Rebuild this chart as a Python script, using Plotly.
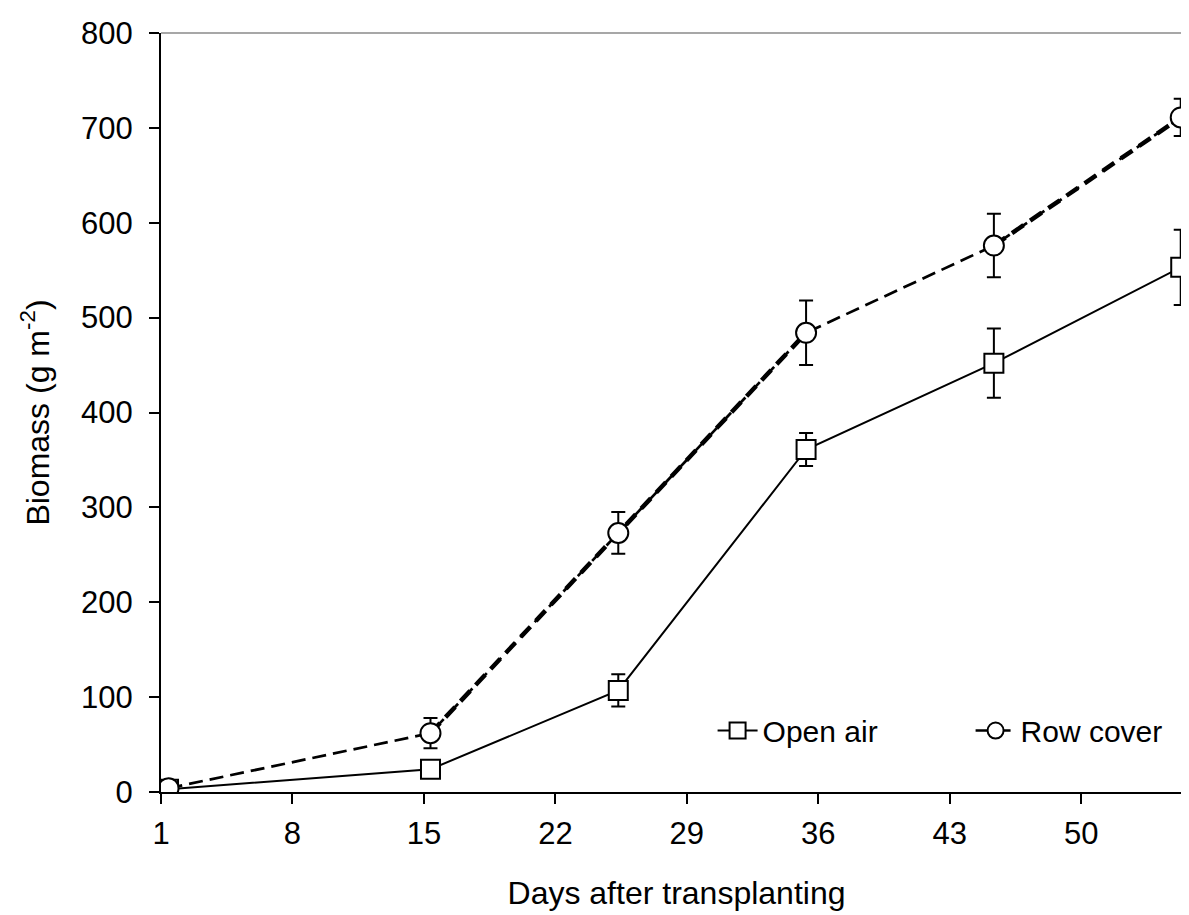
import plotly.graph_objects as go

days = [1.4, 15.35, 25.35, 35.35, 45.35, 55.3]
open_air = [3, 24, 107, 361, 452, 553]
open_air_err = [2, 5, 17, 17.5, 36.5, 39.6]
row_cover = [4, 62, 273, 484, 576, 711]
row_cover_err = [2, 16, 22, 34, 33.5, 19.6]
x_ticks = [1, 8, 15, 22, 29, 36, 43, 50]
y_ticks = [0, 100, 200, 300, 400, 500, 600, 700, 800]

FONT = "Liberation Sans, Arial, sans-serif"

fig = go.Figure()

# thicker dashed segments of the row cover line
for a, b in [(1, 4), (4, 6)]:
    fig.add_trace(go.Scatter(
        x=days[a:b], y=row_cover[a:b], mode="lines",
        line=dict(color="black", width=4.5, dash="14px,8px"),
        showlegend=False, hoverinfo="skip"))

fig.add_trace(go.Scatter(
    x=days, y=open_air, mode="lines+markers", name="Open air",
    line=dict(color="black", width=2),
    marker=dict(symbol="square", size=19, color="white",
                line=dict(color="black", width=2)),
    error_y=dict(type="data", array=open_air_err, visible=True,
                 color="black", thickness=2, width=7)))

fig.add_trace(go.Scatter(
    x=days, y=row_cover, mode="lines+markers", name="Row cover",
    line=dict(color="black", width=2.7, dash="14px,7px"),
    marker=dict(symbol="circle", size=20, color="white",
                line=dict(color="black", width=2)),
    error_y=dict(type="data", array=row_cover_err, visible=True,
                 color="black", thickness=2, width=7)))

fig.update_layout(
    width=1189, height=915,
    margin=dict(l=153, r=5, t=25, b=130.5, autoexpand=False),
    plot_bgcolor="white", paper_bgcolor="white",
    font=dict(family=FONT, size=31, color="black"),
    legend=dict(orientation="h", x=0.535, xanchor="left", y=0.081,
                yanchor="middle", bgcolor="rgba(0,0,0,0)",
                font=dict(size=30), itemwidth=40, entrywidth=203,
                traceorder="normal"),
    xaxis=dict(range=[1, 55.9], tickvals=x_ticks, ticktext=[str(v) for v in x_ticks],
               showline=True, linecolor="black", linewidth=2,
               ticks="outside", ticklen=10, tickwidth=2, tickcolor="black",
               showgrid=False, zeroline=False, ticklabelstandoff=3,
               tickfont=dict(size=31),
               title=dict(text="Days after transplanting", standoff=31,
                          font=dict(size=32))),
    yaxis=dict(range=[0, 800], tickvals=y_ticks,
               showline=True, linecolor="black", linewidth=2,
               ticks="outside", ticklen=10, tickwidth=2, tickcolor="black",
               showgrid=False, zeroline=False, ticklabelstandoff=10,
               tickfont=dict(size=31),
               title=dict(text="Biomass (g m<sup>-2</sup>)", standoff=22,
                          font=dict(size=32))),
    shapes=[
        dict(type="line", xref="paper", yref="paper", x0=0, x1=1, y0=1, y1=1,
             line=dict(color="#8a8a8a", width=1.5)),
        dict(type="line", xref="paper", yref="paper", x0=1, x1=1, y0=0, y1=1,
             line=dict(color="#8a8a8a", width=1.5)),
    ],
)

fig.write_html("out.html")
